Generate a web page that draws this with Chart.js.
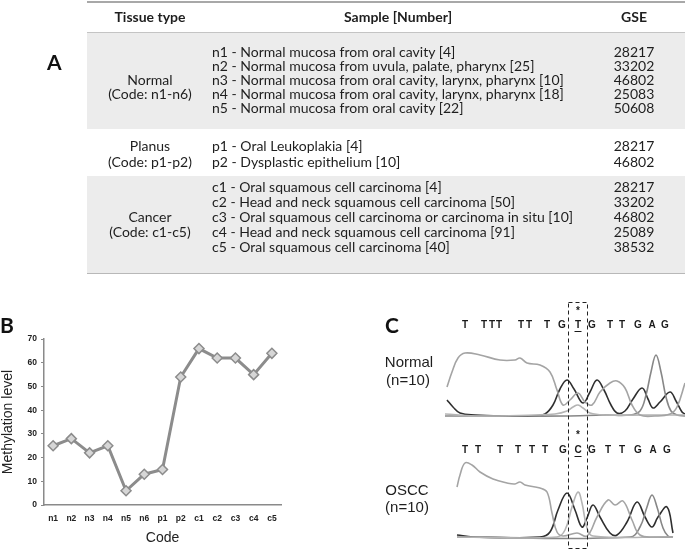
<!DOCTYPE html>
<html>
<head>
<meta charset="utf-8">
<script src="https://cdn.jsdelivr.net/npm/chart.js@4.4.1/dist/chart.umd.min.js"></script>
<style>
  body { margin: 0; background: #fff; }
  #page { position: relative; width: 685px; height: 549px; overflow: hidden; font-family: Lato, 'Open Sans', sans-serif; color: #1e1e1e; }
  .abs { position: absolute; white-space: nowrap; }
  .rule { position: absolute; left: 87px; width: 598px; }
  .band { position: absolute; left: 87px; width: 598px; background: #ececec; }
  .hd { font-weight: bold; font-size: 14px; line-height: 14px; }
  .row { font-size: 14px; line-height: 14px; }
  .panel { font-family: Lato, sans-serif; font-weight: bold; font-size: 21px; line-height: 20px; color: #111; }
  .grp { font-family: 'Liberation Sans', Arial, sans-serif; font-size: 15px; line-height: 18px; text-align: center; width: 70px; }
  canvas { position: absolute; }
</style>
</head>
<body>
<div id="page">
  <canvas id="chartB" width="300" height="219" style="left:0;top:330px"></canvas>
  <canvas id="chromNormal" width="240" height="120" style="left:445px;top:300px"></canvas>
  <canvas id="chromOscc" width="240" height="118" style="left:445px;top:425px"></canvas>
  <svg class="abs" style="left:0;top:0" width="685" height="549">
    <rect x="568.5" y="302.5" width="19" height="246" fill="none" stroke="#222" stroke-width="1" stroke-dasharray="4 3"/>
  </svg>
</div>
<script>
// ---- panel A: table ----
const tissueNames = ['Normal', 'Planus', 'Cancer'];
const tissueCodes = ['(Code: n1-n6)', '(Code: p1-p2)', '(Code: c1-c5)'];
const normalSamples = [
  'n1 - Normal mucosa from oral cavity [4]',
  'n2 - Normal mucosa from uvula, palate, pharynx [25]',
  'n3 - Normal mucosa from oral cavity, larynx, pharynx [10]',
  'n4 - Normal mucosa from oral cavity, larynx, pharynx [18]',
  'n5 - Normal mucosa from oral cavity [22]'
];
const normalGse = ['28217', '33202', '46802', '25083', '50608'];
const planusSamples = ['p1 - Oral Leukoplakia [4]', 'p2 - Dysplastic epithelium [10]'];
const planusGse = ['28217', '46802'];
const cancerSamples = [
  'c1 - Oral squamous cell carcinoma [4]',
  'c2 - Head and neck squamous cell carcinoma [50]',
  'c3 - Oral squamous cell carcinoma or carcinoma in situ [10]',
  'c4 - Head and neck squamous cell carcinoma [91]',
  'c5 - Oral squamous cell carcinoma [40]'
];
const cancerGse = ['28217', '33202', '46802', '25089', '38532'];

// ---- panel B: methylation line ----
const codes = ['n1', 'n2', 'n3', 'n4', 'n5', 'n6', 'p1', 'p2', 'c1', 'c2', 'c3', 'c4', 'c5'];
const methylation = [25, 28, 22, 25, 6, 13, 15, 54, 66, 62, 62, 55, 64];

// ---- panel C: sequencing traces [scan, signal] ----
const seqNormal = ['T', 'T', 'T', 'T', 'T', 'T', 'T', 'G', 'T', 'G', 'T', 'T', 'G', 'A', 'G'];
const seqNormalPos = [20, 39, 47, 54, 76, 84, 102, 117, 133, 147, 165, 177, 193, 207, 220];
const seqOscc = ['T', 'T', 'T', 'T', 'T', 'T', 'G', 'C', 'G', 'T', 'T', 'G', 'A', 'G'];
const seqOsccPos = [20, 33, 55, 73, 87, 100, 118, 133, 147, 163, 177, 193, 208, 222];

const normalT = [[2,30],[7,45],[13,59],[20,64],[35,62],[55,57],[70,57],[75,59],[82,54],[95,52],[105,45],[112,27],[118,12],[125,17],[133,24],[140,15],[147,12],[155,25],[165,34],[172,36],[180,29],[187,12],[195,2],[210,1],[225,3],[232,10],[240,34]];
const normalG = [[2,17],[8,10],[15,4],[30,2],[60,1],[90,1],[100,3],[108,12],[115,28],[122,37],[129,28],[138,14],[145,25],[152,37],[159,27],[166,12],[172,4],[180,6],[188,18],[197,29],[203,18],[208,9],[215,15],[225,25],[231,16],[237,5],[240,3]];
const normalC = [[0,3],[30,1],[90,2],[110,3],[122,6],[128,10],[133,12],[138,9],[145,4],[160,2],[200,2],[240,2]];
const normalA = [[0,1],[60,1],[120,1],[160,2],[185,2],[195,6],[201,22],[206,45],[211,62],[216,45],[221,20],[226,6],[232,2],[240,1]];

const osccT = [[12,51],[15,63],[20,75],[27,73],[35,66],[48,59],[62,55],[70,54],[75,56],[80,53],[95,50],[102,46],[107,25],[112,6],[118,2],[132,5],[142,2],[152,21],[163,38],[170,33],[178,37],[187,18],[195,3],[212,1],[228,1]];
const osccG = [[12,3],[28,1],[95,1],[105,6],[113,28],[122,45],[130,28],[137,11],[142,20],[148,33],[155,21],[165,5],[172,3],[182,16],[192,36],[200,21],[207,11],[213,21],[222,31],[228,5]];
const osccC = [[12,1],[112,1],[120,8],[127,31],[133,46],[137,35],[142,10],[148,2],[228,1]];
const osccA = [[12,1],[185,1],[195,11],[202,31],[207,43],[212,31],[218,10],[223,2],[228,1]];

const page = document.getElementById('page');
function put(text, cls, css) {
  const d = document.createElement('div');
  d.className = 'abs ' + cls;
  d.textContent = text;
  Object.assign(d.style, css);
  page.appendChild(d);
  return d;
}
function box(cls, css) {
  const d = document.createElement('div');
  d.className = cls;
  Object.assign(d.style, css);
  page.insertBefore(d, page.firstChild);
}

// table frame
box('band', { top: '33px', height: '96px' });
box('band', { top: '176px', height: '97px' });
box('rule', { top: '1px', height: '2px', background: '#a8a8a8' });
box('rule', { top: '32px', height: '1.5px', background: '#c4c4c4' });
box('rule', { top: '272px', height: '2px', background: '#b8b8b8' });

put('Tissue type', 'hd', { left: '100px', width: '100px', textAlign: 'center', top: '10px' });
put('Sample [Number]', 'hd', { left: '300px', width: '196px', textAlign: 'center', top: '10px' });
put('GSE', 'hd', { left: '604px', width: '60px', textAlign: 'center', top: '10px' });

function group(idx, tissueY, samples, gse, firstY, step) {
  put(tissueNames[idx], 'row', { left: '90px', width: '120px', textAlign: 'center', top: (tissueY[0] - 7) + 'px' });
  put(tissueCodes[idx], 'row', { left: '90px', width: '120px', textAlign: 'center', top: (tissueY[1] - 7) + 'px' });
  samples.forEach((s, i) => {
    const y = firstY + i * step - 7;
    put(s, 'row', { left: '212px', top: y + 'px' });
    put(gse[i], 'row', { left: '604px', width: '60px', textAlign: 'center', top: y + 'px' });
  });
}
group(0, [80, 94], normalSamples, normalGse, 52, 14);
group(1, [146, 161.5], planusSamples, planusGse, 146, 15.5);
group(2, [217, 232], cancerSamples, cancerGse, 187, 15);

put('A', 'panel', { left: '47px', top: '52px' });
put('B', 'panel', { left: '0px', top: '315px' });
put('C', 'panel', { left: '385px', top: '315px' });

put('Normal', 'grp', { left: '374px', top: '353px' });
put('(n=10)', 'grp', { left: '373px', top: '371px' });
put('OSCC', 'grp', { left: '372px', top: '481px' });
put('(n=10)', 'grp', { left: '372px', top: '498px' });

// ---- chart B ----
const narrow = "'Liberation Sans Narrow', 'Liberation Sans', Arial, sans-serif";
new Chart(document.getElementById('chartB'), {
  type: 'line',
  data: {
    labels: codes,
    datasets: [{
      data: methylation,
      borderColor: '#8c8c8c',
      borderWidth: 3,
      tension: 0,
      pointStyle: 'rectRot',
      pointRadius: 5,
      pointBackgroundColor: '#d6d6d6',
      pointBorderColor: '#8c8c8c',
      pointBorderWidth: 1.5
    }]
  },
  options: {
    responsive: false,
    animation: false,
    events: [],
    layout: { padding: { top: 8, right: 19, left: 0, bottom: 0 } },
    plugins: { legend: { display: false }, tooltip: { enabled: false } },
    scales: {
      x: {
        offset: true,
        grid: { display: true, drawOnChartArea: false, drawTicks: false },
        border: { display: true, color: '#8a8a8a', width: 1.5 },
        ticks: { color: '#222', autoSkip: false, maxRotation: 0, padding: 9, font: { family: narrow, size: 8.5, weight: 'bold' } },
        title: { display: true, text: 'Code', color: '#222', padding: { top: 0, bottom: 2 }, font: { family: narrow, size: 14 } },
        afterFit: s => { s.height = 44; }
      },
      y: {
        min: 0, max: 70,
        grid: { drawOnChartArea: false, tickLength: 3, color: '#8a8a8a' },
        border: { display: true, color: '#8a8a8a', width: 1.5 },
        ticks: { stepSize: 10, color: '#222', padding: 4, font: { family: narrow, size: 8.5, weight: 'bold' } },
        title: { display: true, text: 'Methylation level', color: '#222', padding: { top: 0, bottom: 0 }, font: { family: narrow, size: 14 } },
        afterFit: s => { s.width = 44; }
      }
    }
  }
});

// ---- panel C: chromatograms ----
const baseColors = { T: '#a4a4a4', C: '#b4b4b4', A: '#878787', G: '#2f2f2f' };

function basesPlugin(seq, pos, markIdx, letterY, starY) {
  return {
    id: 'bases',
    afterDraw(chart) {
      const ctx = chart.ctx;
      const xs = chart.scales.x;
      ctx.save();
      ctx.fillStyle = '#1a1a1a';
      ctx.strokeStyle = '#1a1a1a';
      ctx.font = "bold 10px 'Liberation Sans', Arial, sans-serif";
      ctx.textAlign = 'center';
      ctx.textBaseline = 'middle';
      seq.forEach((b, i) => {
        const x = xs.getPixelForValue(pos[i]);
        ctx.fillText(b, x, letterY);
        if (i === markIdx) {
          ctx.lineWidth = 1;
          ctx.beginPath();
          ctx.moveTo(x - 3.5, letterY + 6.5);
          ctx.lineTo(x + 3.5, letterY + 6.5);
          ctx.stroke();
          ctx.fillText('*', x, starY);
        }
      });
      ctx.restore();
    }
  };
}

function traceSet(t, c, a, g) {
  const mk = (pts, col) => ({
    data: pts.map(p => ({ x: p[0], y: p[1] })),
    borderColor: col, borderWidth: 1.6, pointRadius: 0, tension: 0.4, fill: false
  });
  return [mk(t, baseColors.T), mk(c, baseColors.C), mk(a, baseColors.A), mk(g, baseColors.G)];
}

function chromOptions(padTop, yMin, yMax) {
  return {
    responsive: false,
    animation: false,
    events: [],
    layout: { padding: { top: padTop, left: 0, right: 0, bottom: 0 } },
    plugins: { legend: { display: false }, tooltip: { enabled: false } },
    scales: {
      x: { type: 'linear', min: 0, max: 240, display: false },
      y: { min: yMin, max: yMax, display: false }
    }
  };
}

new Chart(document.getElementById('chromNormal'), {
  type: 'line',
  data: { datasets: traceSet(normalT, normalC, normalA, normalG) },
  options: chromOptions(45, -3, 72),
  plugins: [basesPlugin(seqNormal, seqNormalPos, 8, 25, 11)]
});

new Chart(document.getElementById('chromOscc'), {
  type: 'line',
  data: { datasets: traceSet(osccT, osccC, osccA, osccG) },
  options: chromOptions(30, -5, 83),
  plugins: [basesPlugin(seqOscc, seqOsccPos, 7, 25, 10)]
});
</script>
</body>
</html>
